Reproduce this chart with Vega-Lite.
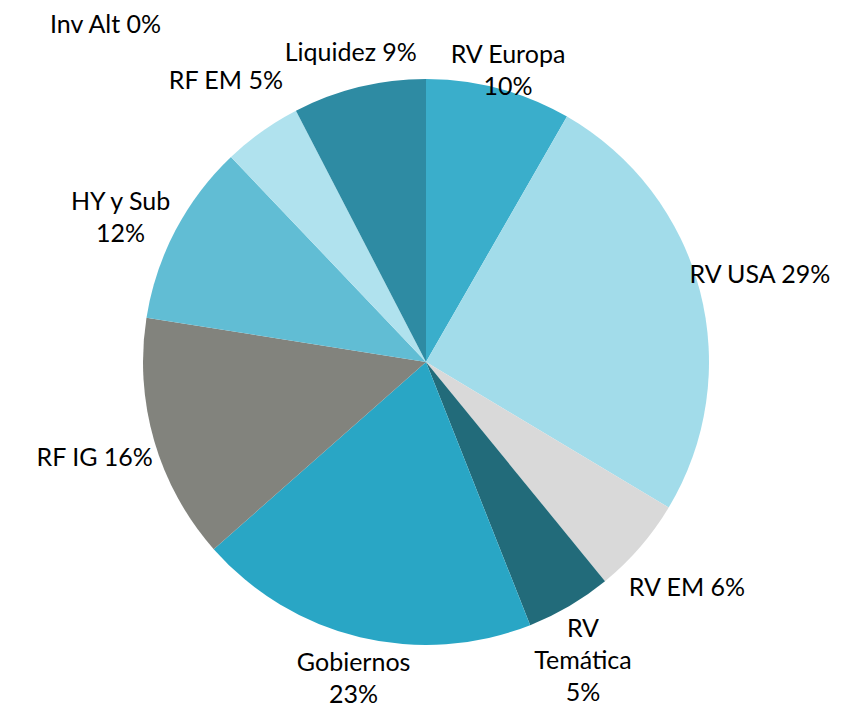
{
  "$schema": "https://vega.github.io/schema/vega-lite/v6.json",
  "width": 830,
  "height": 696,
  "autosize": {"type": "none"},
  "padding": {"left": 11, "top": 14, "right": 0, "bottom": 0},
  "background": "white",
  "config": {"view": {"stroke": null}, "text": {"lineBreak": "\n"}},
  "data": {
    "values": [
      {"idx": 1, "name": "RV Europa", "value": 8.3, "label": "RV Europa\n10%", "grp": "near"},
      {"idx": 2, "name": "RV USA", "value": 25.3, "label": "RV USA 29%", "grp": "side"},
      {"idx": 3, "name": "RV EM", "value": 5.5, "label": "RV EM 6%", "grp": "side"},
      {"idx": 4, "name": "RV Temática", "value": 4.9, "label": "RV\nTemática\n5%", "grp": "bottom"},
      {"idx": 5, "name": "Gobiernos", "value": 19.5, "label": "Gobiernos\n23%", "grp": "bottom"},
      {"idx": 6, "name": "RF IG", "value": 14.0, "label": "RF IG 16%", "grp": "side"},
      {"idx": 7, "name": "HY y Sub", "value": 10.4, "label": "HY y Sub\n12%", "grp": "side"},
      {"idx": 8, "name": "Inv Alt", "value": 0, "label": "Inv Alt 0%", "grp": "far"},
      {"idx": 9, "name": "RF EM", "value": 4.5, "label": "RF EM 5%", "grp": "side"},
      {"idx": 10, "name": "Liquidez", "value": 7.6, "label": "Liquidez 9%", "grp": "near"}
    ]
  },
  "encoding": {
    "theta": {"field": "value", "type": "quantitative", "stack": true},
    "order": {"field": "idx", "type": "quantitative"}
  },
  "layer": [
    {
      "mark": {"type": "arc", "outerRadius": 283},
      "encoding": {
        "color": {
          "field": "name",
          "type": "nominal",
          "legend": null,
          "scale": {
            "domain": ["RV Europa", "RV USA", "RV EM", "RV Temática", "Gobiernos", "RF IG", "HY y Sub", "Inv Alt", "RF EM", "Liquidez"],
            "range": ["#3aaecb", "#a2dcea", "#d9d9d9", "#226b7a", "#29a6c5", "#82837d", "#61bdd4", "#1f4e5a", "#b0e2ee", "#2e8ba3"]
          }
        }
      }
    },
    {
      "mark": {"type": "text", "radius": 345, "baseline": "middle", "font": "Lato", "fontSize": 25, "lineHeight": 32, "color": "#000000"},
      "encoding": {"text": {"condition": {"test": "datum.grp === 'side'", "field": "label"}, "value": ""}}
    },
    {
      "mark": {"type": "text", "radius": 318, "baseline": "middle", "font": "Lato", "fontSize": 25, "lineHeight": 32, "color": "#000000"},
      "encoding": {"text": {"condition": {"test": "datum.grp === 'near'", "field": "label"}, "value": ""}}
    },
    {
      "mark": {"type": "text", "radius": 310, "baseline": "middle", "font": "Lato", "fontSize": 25, "lineHeight": 32, "color": "#000000"},
      "encoding": {"text": {"condition": {"test": "datum.grp === 'bottom'", "field": "label"}, "value": ""}}
    },
    {
      "mark": {"type": "text", "radius": 465, "baseline": "middle", "font": "Lato", "fontSize": 25, "lineHeight": 32, "color": "#000000"},
      "encoding": {"text": {"condition": {"test": "datum.grp === 'far'", "field": "label"}, "value": ""}}
    }
  ]
}
